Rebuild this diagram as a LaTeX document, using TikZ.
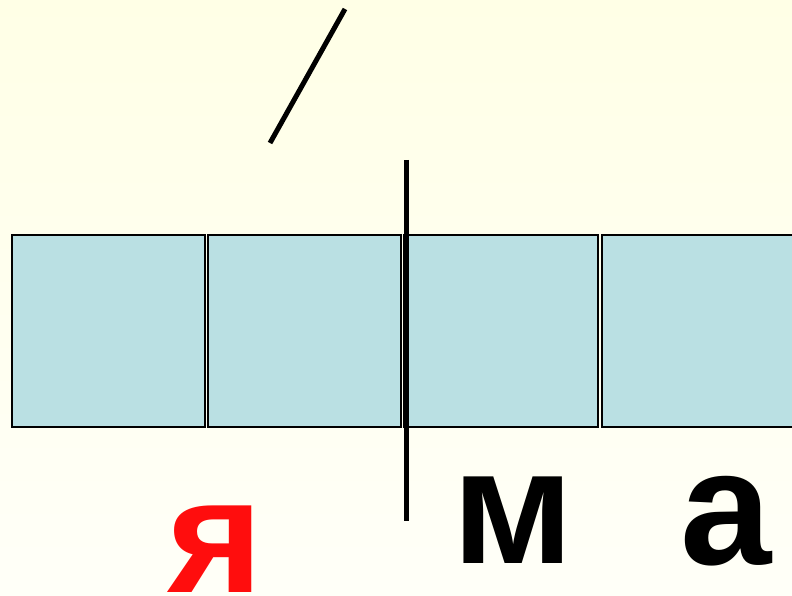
\documentclass[tikz,border=0pt]{standalone}
\usepackage{fontspec}
\setmainfont{Liberation Sans}
\definecolor{bgtop}{HTML}{FFFFE6}
\definecolor{bgbot}{HTML}{FFFFF8}
\definecolor{cellfill}{HTML}{BAE0E3}
\definecolor{redletter}{HTML}{FF0D0D}
\begin{document}
\begin{tikzpicture}[x=1pt,y=-1pt,
  cell/.style={draw=black,line width=1.5pt,fill=cellfill},
  stroke/.style={line width=5pt,black},
  letter/.style={inner sep=0pt,anchor=base,font=\fontsize{164}{164}\selectfont\bfseries}]
\useasboundingbox (0,0) rectangle (792,596);
\shade[top color=bgtop,bottom color=bgbot] (0,0) rectangle (792,596);
\begin{scope}
\clip (0,0) rectangle (792,596);
\draw[cell] (12,235) rectangle (205,427);
\draw[cell] (208,235) rectangle (401,427);
\draw[cell] (404,235) rectangle (598,427);
\draw[cell] (602,235) rectangle (800,427);
\end{scope}
\coordinate (d1) at (345,9);
\coordinate (d2) at (270,143);
\draw[stroke] (d1) -- (d2);
\coordinate (v1) at (406,160);
\coordinate (v2) at (406,521);
\draw[stroke] (v1) -- (v2);
\node[letter,text=redletter] (ya) at (215,592) {я};
\node[letter] (em) at (513,563) {м};
\node[letter] (a) at (726,564) {а};
\end{tikzpicture}
\end{document}
